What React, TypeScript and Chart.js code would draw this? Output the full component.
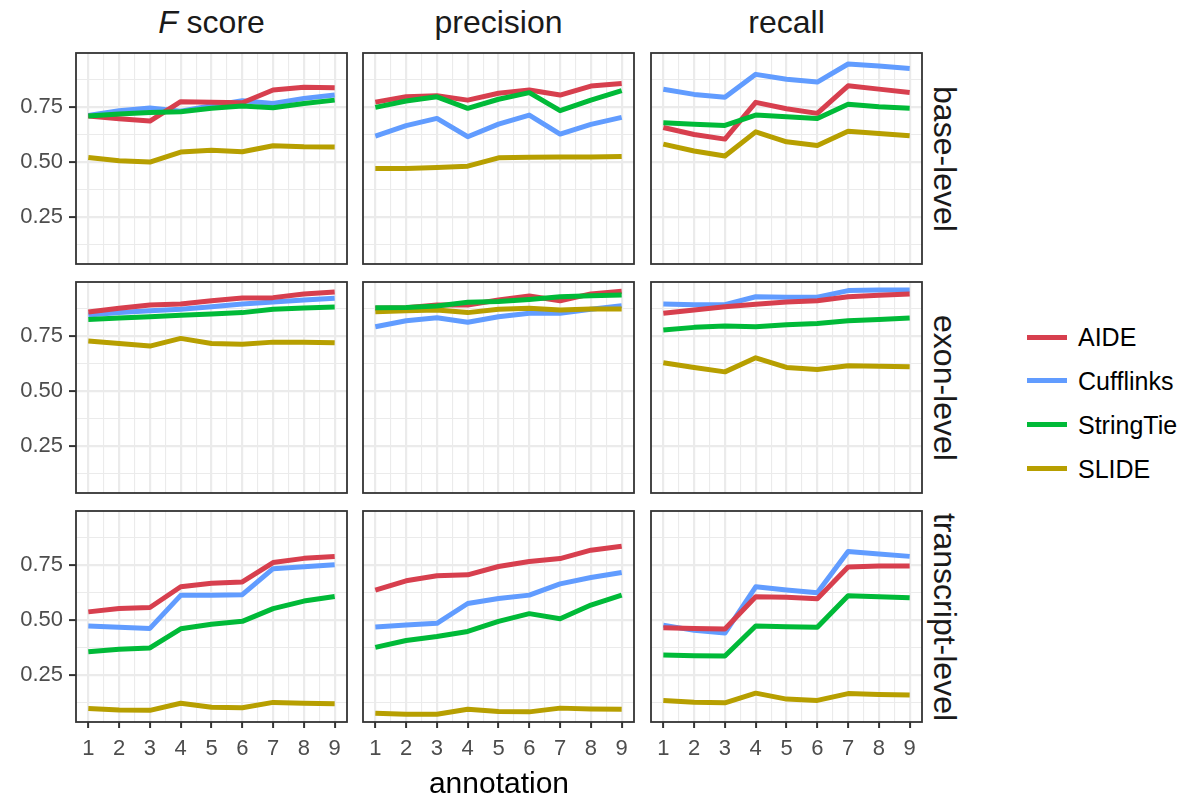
import React, { useEffect, useRef } from "react";
import { Chart, registerables } from "chart.js";

Chart.register(...registerables);

// ---- axes ----
const ANNOTATIONS = [1, 2, 3, 4, 5, 6, 7, 8, 9];
const X_MINOR = [1.5, 2.5, 3.5, 4.5, 5.5, 6.5, 7.5, 8.5];
const Y_TICKS = [0.25, 0.5, 0.75];
const Y_MINOR = [0.125, 0.375, 0.625, 0.875];
const X_RANGE = [0.6, 9.4];
const Y_RANGE = [0.036, 0.994];

// ---- facets / methods ----
const METRICS = ["F score", "precision", "recall"];
const LEVELS = ["base-level", "exon-level", "transcript-level"];
const METHODS = ["AIDE", "Cufflinks", "StringTie", "SLIDE"];
const COLORS = ["#D73F4E", "#619CFF", "#00BA38", "#B79F00"];
const DRAW_ORDER = [2, 3, 0, 1]; // lower value is painted on top

// ---- base-level ----
const AIDE_BASE_F = [0.708, 0.695, 0.685, 0.773, 0.770, 0.768, 0.826, 0.838, 0.836];
const CUFF_BASE_F = [0.710, 0.732, 0.744, 0.730, 0.755, 0.777, 0.765, 0.788, 0.803];
const STIE_BASE_F = [0.708, 0.717, 0.724, 0.727, 0.743, 0.753, 0.745, 0.765, 0.780];
const SLIDE_BASE_F = [0.520, 0.505, 0.499, 0.544, 0.552, 0.546, 0.573, 0.568, 0.567];

const AIDE_BASE_P = [0.771, 0.795, 0.800, 0.780, 0.811, 0.826, 0.803, 0.844, 0.856];
const CUFF_BASE_P = [0.617, 0.664, 0.697, 0.614, 0.671, 0.712, 0.626, 0.670, 0.702];
const STIE_BASE_P = [0.747, 0.776, 0.795, 0.743, 0.784, 0.814, 0.732, 0.780, 0.823];
const SLIDE_BASE_P = [0.470, 0.470, 0.474, 0.480, 0.518, 0.521, 0.522, 0.522, 0.524];

const AIDE_BASE_R = [0.656, 0.624, 0.603, 0.770, 0.741, 0.720, 0.845, 0.830, 0.815];
const CUFF_BASE_R = [0.829, 0.806, 0.793, 0.897, 0.875, 0.862, 0.944, 0.935, 0.924];
const STIE_BASE_R = [0.677, 0.671, 0.665, 0.712, 0.705, 0.697, 0.761, 0.750, 0.743];
const SLIDE_BASE_R = [0.580, 0.549, 0.526, 0.636, 0.591, 0.574, 0.639, 0.629, 0.618];

// ---- exon-level ----
const AIDE_EXON_F = [0.858, 0.875, 0.890, 0.894, 0.909, 0.921, 0.923, 0.940, 0.949];
const CUFF_EXON_F = [0.844, 0.855, 0.864, 0.870, 0.882, 0.894, 0.903, 0.912, 0.920];
const STIE_EXON_F = [0.824, 0.830, 0.836, 0.843, 0.849, 0.855, 0.870, 0.876, 0.880];
const SLIDE_EXON_F = [0.726, 0.715, 0.703, 0.738, 0.715, 0.711, 0.721, 0.721, 0.718];

const AIDE_EXON_P = [0.875, 0.877, 0.890, 0.890, 0.912, 0.930, 0.909, 0.940, 0.952];
const CUFF_EXON_P = [0.791, 0.818, 0.832, 0.811, 0.836, 0.852, 0.852, 0.870, 0.886];
const STIE_EXON_P = [0.877, 0.878, 0.885, 0.902, 0.905, 0.915, 0.927, 0.932, 0.935];
const SLIDE_EXON_P = [0.859, 0.864, 0.867, 0.855, 0.870, 0.875, 0.867, 0.871, 0.871];

const AIDE_EXON_R = [0.852, 0.867, 0.882, 0.893, 0.903, 0.909, 0.927, 0.934, 0.940];
const CUFF_EXON_R = [0.894, 0.891, 0.891, 0.927, 0.925, 0.925, 0.955, 0.958, 0.958];
const STIE_EXON_R = [0.776, 0.788, 0.794, 0.791, 0.800, 0.806, 0.818, 0.824, 0.830];
const SLIDE_EXON_R = [0.627, 0.606, 0.586, 0.650, 0.606, 0.597, 0.614, 0.612, 0.609];

// ---- transcript-level ----
const AIDE_TX_F = [0.536, 0.551, 0.556, 0.650, 0.666, 0.672, 0.760, 0.779, 0.787];
const CUFF_TX_F = [0.472, 0.466, 0.461, 0.611, 0.612, 0.614, 0.732, 0.741, 0.750];
const STIE_TX_F = [0.355, 0.366, 0.372, 0.459, 0.480, 0.493, 0.551, 0.585, 0.606];
const SLIDE_TX_F = [0.097, 0.091, 0.089, 0.121, 0.103, 0.101, 0.125, 0.121, 0.119];

const AIDE_TX_P = [0.635, 0.677, 0.700, 0.704, 0.742, 0.765, 0.778, 0.816, 0.834];
const CUFF_TX_P = [0.467, 0.476, 0.484, 0.574, 0.597, 0.612, 0.663, 0.692, 0.715];
const STIE_TX_P = [0.375, 0.406, 0.424, 0.447, 0.493, 0.528, 0.505, 0.567, 0.612];
const SLIDE_TX_P = [0.076, 0.071, 0.071, 0.094, 0.084, 0.082, 0.099, 0.095, 0.094];

const AIDE_TX_R = [0.464, 0.461, 0.458, 0.605, 0.602, 0.596, 0.740, 0.744, 0.744];
const CUFF_TX_R = [0.476, 0.452, 0.440, 0.650, 0.635, 0.623, 0.810, 0.799, 0.788];
const STIE_TX_R = [0.340, 0.337, 0.336, 0.472, 0.469, 0.466, 0.609, 0.605, 0.600];
const SLIDE_TX_R = [0.134, 0.126, 0.123, 0.167, 0.140, 0.134, 0.165, 0.161, 0.159];

// rows = levels, columns = metrics, each cell lists series in METHODS order
const GRID_SERIES = [
  [
    [AIDE_BASE_F, CUFF_BASE_F, STIE_BASE_F, SLIDE_BASE_F],
    [AIDE_BASE_P, CUFF_BASE_P, STIE_BASE_P, SLIDE_BASE_P],
    [AIDE_BASE_R, CUFF_BASE_R, STIE_BASE_R, SLIDE_BASE_R],
  ],
  [
    [AIDE_EXON_F, CUFF_EXON_F, STIE_EXON_F, SLIDE_EXON_F],
    [AIDE_EXON_P, CUFF_EXON_P, STIE_EXON_P, SLIDE_EXON_P],
    [AIDE_EXON_R, CUFF_EXON_R, STIE_EXON_R, SLIDE_EXON_R],
  ],
  [
    [AIDE_TX_F, CUFF_TX_F, STIE_TX_F, SLIDE_TX_F],
    [AIDE_TX_P, CUFF_TX_P, STIE_TX_P, SLIDE_TX_P],
    [AIDE_TX_R, CUFF_TX_R, STIE_TX_R, SLIDE_TX_R],
  ],
];

// ---- layout ----
const FONT = "'Liberation Sans', Arial, Helvetica, sans-serif";
const PANEL_LEFT = [76, 363, 651];
const PANEL_TOP = [53, 282, 511];
const PANEL_W = 271;
const PANEL_H = 211;
const PAD = 3;
const Y_AXIS_W = 62;
const X_AXIS_H = 44;
const GRID_COLOR = "#EBEBEB";
const INK = "#333333";
const TICK_TEXT = "#4D4D4D";

const panelBorder = {
  id: "panelBorder",
  afterDraw(chart: any) {
    const { ctx, chartArea } = chart;
    ctx.save();
    ctx.strokeStyle = INK;
    ctx.lineWidth = 1.8;
    ctx.strokeRect(
      chartArea.left,
      chartArea.top,
      chartArea.right - chartArea.left,
      chartArea.bottom - chartArea.top
    );
    ctx.restore();
  },
};

const isMajorX = (v: number) => ANNOTATIONS.includes(v);
const isMajorY = (v: number) => Y_TICKS.some((t) => Math.abs(t - v) < 1e-9);

function Panel({ row, col }: { row: number; col: number }) {
  const ref = useRef<HTMLCanvasElement>(null);
  const showY = col === 0;
  const showX = row === 2;
  const w = PANEL_W + 2 * PAD + (showY ? Y_AXIS_W : 0);
  const h = PANEL_H + 2 * PAD + (showX ? X_AXIS_H : 0);
  const left = PANEL_LEFT[col] - PAD - (showY ? Y_AXIS_W : 0);
  const top = PANEL_TOP[row] - PAD;

  useEffect(() => {
    if (!ref.current) return;
    const series = GRID_SERIES[row][col];
    const chart = new Chart(ref.current, {
      type: "line",
      data: {
        datasets: METHODS.map((m, i) => ({
          label: m,
          data: ANNOTATIONS.map((a, j) => ({ x: a, y: series[i][j] })),
          borderColor: COLORS[i],
          backgroundColor: COLORS[i],
          borderWidth: 5,
          pointRadius: 0,
          tension: 0,
          fill: false,
          order: DRAW_ORDER[i],
          borderCapStyle: "butt",
          borderJoinStyle: "round",
        })),
      },
      options: {
        animation: false,
        responsive: false,
        maintainAspectRatio: false,
        events: [],
        layout: { padding: PAD },
        plugins: { legend: { display: false }, tooltip: { enabled: false } },
        scales: {
          x: {
            type: "linear",
            min: X_RANGE[0],
            max: X_RANGE[1],
            afterBuildTicks: (s: any) => {
              s.ticks = [...ANNOTATIONS, ...X_MINOR]
                .sort((a, b) => a - b)
                .map((v) => ({ value: v }));
            },
            afterFit: (s: any) => {
              s.height = showX ? X_AXIS_H : 0;
              s.paddingLeft = 0;
              s.paddingRight = 0;
            },
            border: { display: false },
            grid: {
              color: GRID_COLOR,
              lineWidth: (c: any) => (isMajorX(c.tick?.value) ? 2.2 : 1.1),
              drawTicks: showX,
              tickLength: 6,
              tickWidth: 2,
              tickColor: (c: any) => (isMajorX(c.tick?.value) ? INK : "rgba(0,0,0,0)"),
            },
            ticks: {
              display: showX,
              autoSkip: false,
              maxRotation: 0,
              padding: 8,
              color: TICK_TEXT,
              font: { family: FONT, size: 22 },
              callback: (v: any) => (isMajorX(Number(v)) ? String(v) : ""),
            },
          },
          y: {
            type: "linear",
            min: Y_RANGE[0],
            max: Y_RANGE[1],
            afterBuildTicks: (s: any) => {
              s.ticks = [...Y_TICKS, ...Y_MINOR]
                .sort((a, b) => a - b)
                .map((v) => ({ value: v }));
            },
            afterFit: (s: any) => {
              s.width = showY ? Y_AXIS_W : 0;
              s.paddingTop = 0;
              s.paddingBottom = 0;
            },
            border: { display: false },
            grid: {
              color: GRID_COLOR,
              lineWidth: (c: any) => (isMajorY(c.tick?.value) ? 2.2 : 1.1),
              drawTicks: showY,
              tickLength: 7,
              tickWidth: 2,
              tickColor: (c: any) => (isMajorY(c.tick?.value) ? INK : "rgba(0,0,0,0)"),
            },
            ticks: {
              display: showY,
              autoSkip: false,
              padding: 6,
              color: TICK_TEXT,
              font: { family: FONT, size: 22 },
              callback: (v: any) => (isMajorY(Number(v)) ? Number(v).toFixed(2) : ""),
            },
          },
        },
      },
      plugins: [panelBorder],
    } as any);
    return () => chart.destroy();
  }, [row, col]);

  return (
    <canvas
      ref={ref}
      width={w}
      height={h}
      style={{ position: "absolute", left, top, width: w, height: h }}
    />
  );
}

export default function App() {
  const stripFont = 32;
  return (
    <div
      style={{
        position: "absolute",
        left: 0,
        top: 0,
        width: 1193,
        height: 804,
        background: "#FFFFFF",
        fontFamily: FONT,
        overflow: "hidden",
      }}
    >
      {LEVELS.map((_, r) =>
        METRICS.map((__, c) => <Panel key={`${r}-${c}`} row={r} col={c} />)
      )}

      {/* column strips */}
      {METRICS.map((m, c) => (
        <div
          key={m}
          style={{
            position: "absolute",
            left: PANEL_LEFT[c],
            width: PANEL_W,
            top: 22,
            transform: "translateY(-50%)",
            textAlign: "center",
            fontSize: stripFont,
            color: "#1A1A1A",
            whiteSpace: "nowrap",
            lineHeight: 1.15,
          }}
        >
          {m === "F score" ? (
            <>
              <i>F</i> score
            </>
          ) : (
            m
          )}
        </div>
      ))}

      {/* row strips */}
      {LEVELS.map((l, r) => (
        <div
          key={l}
          style={{
            position: "absolute",
            left: 945,
            top: PANEL_TOP[r] + PANEL_H / 2,
            transform: "translate(-50%, -50%) rotate(90deg)",
            fontSize: stripFont,
            color: "#1A1A1A",
            whiteSpace: "nowrap",
            lineHeight: 1.15,
          }}
        >
          {l}
        </div>
      ))}

      {/* x axis title */}
      <div
        style={{
          position: "absolute",
          left: PANEL_LEFT[0],
          width: PANEL_LEFT[2] + PANEL_W - PANEL_LEFT[0],
          top: 783,
          transform: "translateY(-50%)",
          textAlign: "center",
          fontSize: 30,
          color: "#000000",
          lineHeight: 1.15,
        }}
      >
        annotation
      </div>

      {/* legend */}
      {METHODS.map((m, i) => {
        const cy = 337 + i * 43.9;
        return (
          <React.Fragment key={m}>
            <div
              style={{
                position: "absolute",
                left: 1027,
                top: cy - 2.5,
                width: 40,
                height: 5,
                background: COLORS[i],
              }}
            />
            <div
              style={{
                position: "absolute",
                left: 1078,
                top: cy,
                transform: "translateY(-50%)",
                fontSize: 25,
                color: "#000000",
                lineHeight: 1.15,
                whiteSpace: "nowrap",
              }}
            >
              {m}
            </div>
          </React.Fragment>
        );
      })}
    </div>
  );
}
